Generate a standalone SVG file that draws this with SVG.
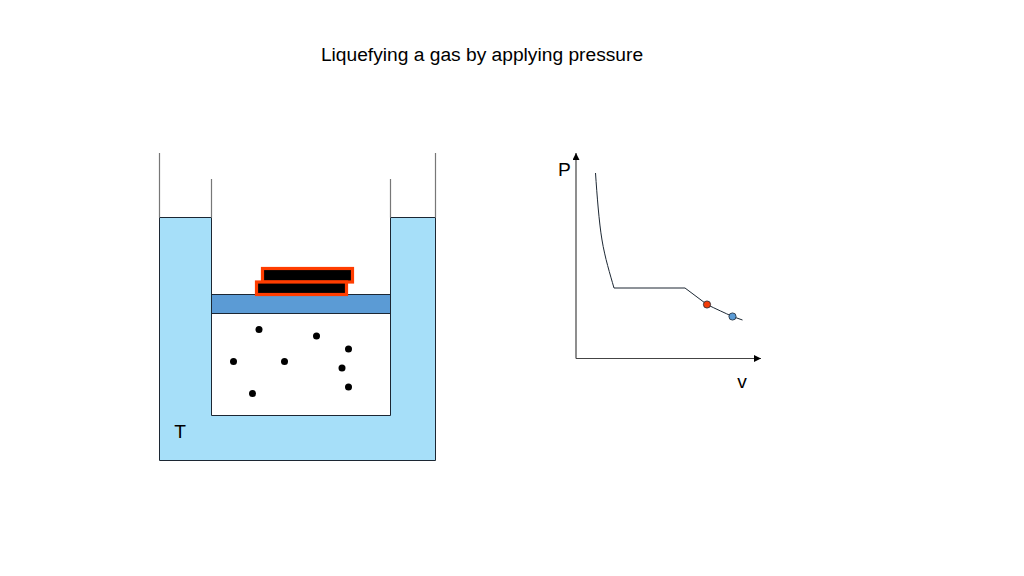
<svg xmlns="http://www.w3.org/2000/svg" width="1024" height="576" viewBox="0 0 1024 576">
<style>
text{font-family:"Liberation Sans",Arial,sans-serif;font-size:19.200px;fill:#000}
.line{fill:none;stroke:#1c2733;stroke-width:1}
.wall{fill:none;stroke:#777;stroke-width:1.200}
.water{fill:#a6dff9}
.weight{fill:#000;stroke:#ff3d00;stroke-width:3.200}
.dot{fill:#000}
.axis{fill:none;stroke:#444;stroke-width:1.200;marker-end:url(#arrow)}
</style>
<defs>
<marker id="arrow" markerUnits="userSpaceOnUse" markerWidth="8" markerHeight="8" refX="7" refY="3.500" orient="auto"><path d="M0 0L7 3.500L0 7z" fill="#000"/></marker>
</defs>
<rect width="1024" height="576" fill="#fff"/>
<text id="title" x="482" y="61" text-anchor="middle">Liquefying a gas by applying pressure</text>
<g id="bath">
<path class="water" d="M159.500 217.500H211.500V415.500H390.500V217.500H435.500V460.500H159.500Z"/>
<path class="line" d="M159.500 217.500H211.500V415.500H390.500V217.500H435.500V460.500H159.500Z"/>
<path class="wall" d="M159.500 153V217.500M211.500 179V217.500M390.500 179V217.500M435.500 153V217.500"/>
<text id="label-t" x="180" y="438" text-anchor="middle">T</text>
</g>
<g id="piston">
<rect x="211.500" y="294.500" width="179" height="19" fill="#5b9bd5" stroke="#1c2733"/>
</g>
<g id="weight-top"><rect class="weight" x="262.500" y="268.500" width="90" height="13.500"/></g>
<g id="weight-bottom"><rect class="weight" x="256.500" y="282" width="90" height="12.500"/></g>
<g id="molecules">
<circle class="dot" cx="259" cy="329.500" r="3.500"/>
<circle class="dot" cx="316.500" cy="336" r="3.500"/>
<circle class="dot" cx="348.500" cy="349" r="3.500"/>
<circle class="dot" cx="233.500" cy="361.500" r="3.500"/>
<circle class="dot" cx="284.500" cy="361.500" r="3.500"/>
<circle class="dot" cx="342" cy="368" r="3.500"/>
<circle class="dot" cx="348.500" cy="387" r="3.500"/>
<circle class="dot" cx="252.500" cy="393.500" r="3.500"/>
</g>
<g id="connectors">
<path class="axis" d="M576 358.500V153"/>
<path class="axis" d="M576 358.500H761"/>
<path class="line" d="M595.500 173C597 195 599 222 602 240C605 258 610 274 614 288H685L707 304.500C716 309 725 313 732.500 316.500L742.500 320"/>
</g>
<g id="graph-labels">
<text id="label-p" x="564.500" y="176" text-anchor="middle">P</text>
<text id="label-v" x="742" y="388" text-anchor="middle">v</text>
</g>
<g id="state-red"><circle cx="707" cy="304.500" r="3.600" fill="#f23c08" stroke="#1c2733" stroke-width="0.800"/></g>
<g id="state-blue"><circle cx="732.500" cy="316.500" r="3.600" fill="#5b9bd5" stroke="#1c2733" stroke-width="0.800"/></g>
</svg>
